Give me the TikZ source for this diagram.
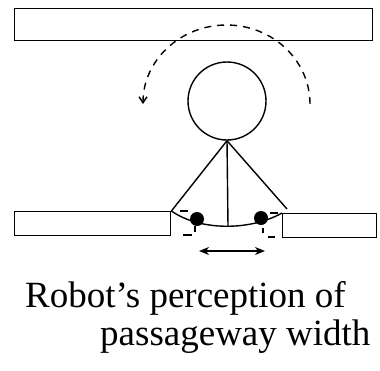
\documentclass[tikz,border=0pt]{standalone}
\usepackage{fontspec}
\setmainfont{Liberation Serif}
\usetikzlibrary{arrows.meta}
\begin{document}
\begin{tikzpicture}[x=1pt,y=-1pt,
  solid line/.style={line width=1.4pt},
  wall/.style={draw,line width=1.4pt,fill=none},
  dotmark/.style={circle,fill=black,inner sep=0pt,minimum size=14pt},
  lbl/.style={anchor=base west,inner sep=0pt,font=\fontsize{37}{40}\selectfont}]
\useasboundingbox (0,0) rectangle (380,370);
% rotation arc
\draw[line width=1.4pt,dash pattern=on 7pt off 6pt,-{Straight Barb[length=6pt,width=8pt]}]
  (310,104) arc[start angle=0,end angle=-180,x radius=83.5,y radius=79];
% top wall
\node[wall,minimum width=358pt,minimum height=32pt,anchor=north west,inner sep=0pt] (topwall) at (14,8) {};
% robot head
\node[draw,circle,line width=1.4pt,minimum size=78pt,inner sep=0pt] (head) at (227,101) {};
% passage walls
\node[wall,minimum width=156pt,minimum height=24pt,anchor=north west,inner sep=0pt] (lwall) at (14,211) {};
\node[wall,minimum width=94pt,minimum height=24pt,anchor=north west,inner sep=0pt] (rwall) at (282,213) {};
% perceived corners (dashed)
\draw[line width=1.3pt,dash pattern=on 8pt off 22pt on 6pt off 6pt on 9pt off 23pt,dash phase=64pt]
  (170,211) -- (195,211) -- (195,235) -- (170,235);
\draw[line width=1.3pt,dash pattern=on 8pt off 22pt on 5pt off 9pt on 7pt off 11pt,dash phase=58pt]
  (282,213) -- (263,213) -- (263,237) -- (282,237);
% sensor rays
\coordinate (rayend) at (287,209);
\coordinate (midbot) at (228,226);
\draw[solid line] (head.south) -- (lwall.north east);
\draw[solid line] (head.south) -- (rayend);
\draw[solid line] (head.south) -- (midbot);
% perceived passage curve
\draw[solid line] (lwall.north east) .. controls (200,231) and (250,231) .. (rwall.north west);
% detected points
\node[dotmark] (ldot) at (197,219) {};
\node[dotmark] (rdot) at (261,218) {};
% width arrow
\coordinate (wa) at (199,251);
\coordinate (wb) at (265,251);
\draw[line width=1.4pt,{Stealth[length=10pt,width=8pt,inset=3pt]}-{Stealth[length=10pt,width=8pt,inset=3pt]}] (wa) -- (wb);
% caption
\node[lbl] (cap1) at (25,307) {Robot’s perception of};
\node[lbl] (cap2) at (100,345) {passageway width};
\end{tikzpicture}
\end{document}
